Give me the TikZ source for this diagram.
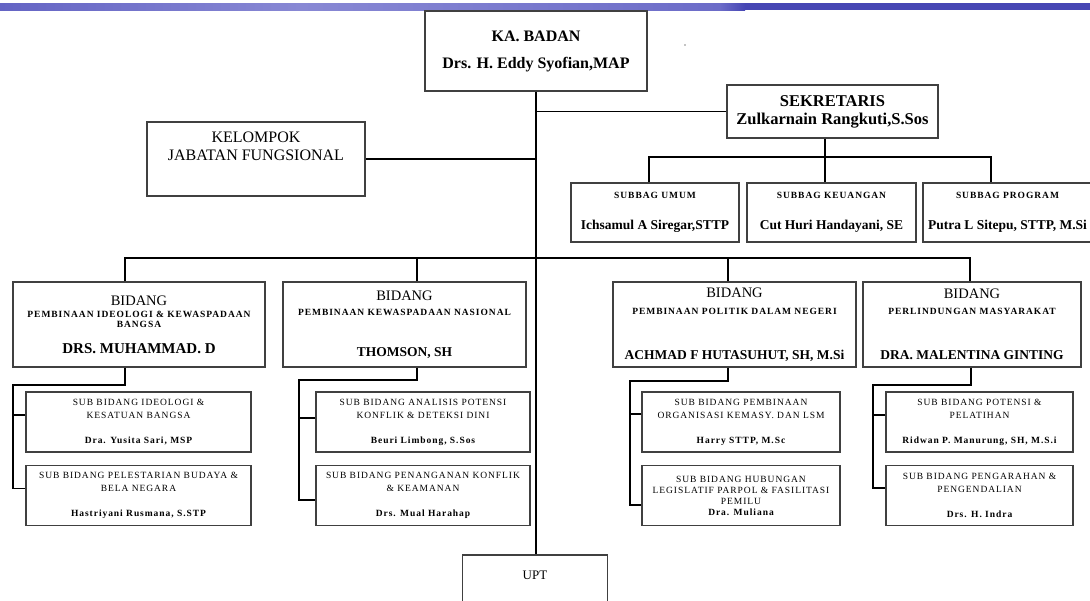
\documentclass[tikz,border=0pt]{standalone}
\usepackage{fontspec}
\setmainfont{Liberation Serif}
\newfontfamily\widefont[LetterSpace=10]{Liberation Serif}
\usetikzlibrary{calc}
\definecolor{barleft}{HTML}{6464C4}
\definecolor{barmid}{HTML}{8888D4}
\definecolor{barmid2}{HTML}{6C6CC8}
\definecolor{barright}{HTML}{4646B4}
\newcommand\fsz[2]{\fontsize{#1}{#2}\selectfont}
\newcommand\ttl[1]{{\widefont\bfseries #1}}
\newcommand\stl[1]{{\widefont #1}}
\newcommand\snm[1]{{\widefont\fsz{9.5}{13}\bfseries #1}}
\newcommand\bnm[1]{{\fsz{13.5}{9}\bfseries #1}}
\newcommand\bhd{{\fsz{14.5}{9}BIDANG}}
\tikzset{
	box/.style={draw=black!75, line width=1.2pt, inner sep=1pt, align=center},
	link/.style={line width=1.1pt},
	bidang/.style={box, minimum width=243, minimum height=85, font=\fsz{9.5}{9.5}},
	subbox/.style={box, minimum height=60, font=\fsz{9.5}{13}},
	subbag/.style={box, minimum width=169, minimum height=59, font=\fsz{9.5}{10}},
}

\begin{document}
\begin{tikzpicture}[x=1pt,y=-1pt]
	\useasboundingbox (0,0) rectangle (1090,600);
	\clip (0,0) rectangle (1090,600);
	%%%%% BAR %%%%%
	\shade[left color=barleft, right color=barmid] (0,3) rectangle (300,10);
	\shade[left color=barmid, right color=barmid2] (300,3) rectangle (720,10);
	\shade[left color=barmid2, right color=barright] (720,3) rectangle (745,10);
	\fill[barright] (745,3) rectangle (1090,10);
	\fill (685,45) circle (0.7);

	%%%%% PIMPINAAN %%%%%
	\node[box, minimum width=222, minimum height=80, font=\fsz{16}{27}\bfseries] (ka) at (536,51) {KA. BADAN\\Drs. H. Eddy Syofian,MAP};
	\node[box, minimum width=211, minimum height=53, font=\fsz{16.5}{18}\bfseries] (sek) at (832.5,111.5) {SEKRETARIS\\Zulkarnain Rangkuti,S.Sos};
	\node[box, minimum width=218, minimum height=74, font=\fsz{16}{18}] (kel) at (256,159) {KELOMPOK\\JABATAN FUNGSIONAL\\[8pt]\mbox{}};

	%%%%% SUBBAG %%%%%
	\node[subbag, minimum width=168] (sb1) at (655,212.5) {\ttl{SUBBAG UMUM}\\[21pt]\bnm{Ichsamul A Siregar,STTP}};
	\node[subbag] (sb2) at (831.5,212.5) {\ttl{SUBBAG KEUANGAN}\\[21pt]\bnm{Cut Huri Handayani, SE}};
	\node[subbag] (sb3) at (1007.5,212.5) {\ttl{SUBBAG PROGRAM}\\[21pt]\bnm{Putra L Sitepu, STTP, M.Si}};

	%%%%% BIDANG %%%%%
	\node[bidang, minimum width=252] (bd1) at (139,324.5) {\bhd\\[3pt]\ttl{PEMBINAAN IDEOLOGI \& KEWASPADAAN}\\\ttl{BANGSA}\\[15pt]{\fsz{15}{9}\bfseries DRS. MUHAMMAD. D}};
	\node[bidang] (bd2) at (404.5,324.5) {\bhd\\[5pt]\ttl{PEMBINAAN KEWASPADAAN NASIONAL}\\[31.5pt]\bnm{THOMSON, SH}};
	\node[bidang] (bd3) at (734.5,324.5) {\bhd\\[7pt]\ttl{PEMBINAAN POLITIK DALAM NEGERI}\\[35.5pt]\bnm{ACHMAD F HUTASUHUT, SH, M.Si}};
	\node[bidang, minimum width=218] (bd4) at (972,324.5) {\bhd\\[7pt]\ttl{PERLINDUNGAN MASYARAKAT}\\[35.5pt]\bnm{DRA. MALENTINA GINTING}};

	%%%%% SUB BIDANG %%%%%
	\node[subbox, minimum width=225] (s11) at (138.5,422) {\stl{SUB BIDANG IDEOLOGI \&}\\\stl{KESATUAN BANGSA}\\[12pt]\snm{Dra. Yusita Sari, MSP}};
	\node[subbox, minimum width=225] (s12) at (138.5,495.5) {\stl{SUB BIDANG PELESTARIAN BUDAYA \&}\\\stl{BELA NEGARA}\\[12pt]\snm{Hastriyani Rusmana, S.STP}};
	\node[subbox, minimum width=214] (s21) at (423,422) {\stl{SUB BIDANG ANALISIS POTENSI}\\\stl{KONFLIK \& DETEKSI DINI}\\[12pt]\snm{Beuri Limbong, S.Sos}};
	\node[subbox, minimum width=214] (s22) at (423,495.5) {\stl{SUB BIDANG PENANGANAN KONFLIK}\\\stl{\& KEAMANAN}\\[12pt]\snm{Drs. Mual Harahap}};
	\node[subbox, minimum width=198] (s31) at (741,422) {\stl{SUB BIDANG PEMBINAAN}\\\stl{ORGANISASI KEMASY. DAN LSM}\\[12pt]\snm{Harry STTP, M.Sc}};
	\node[subbox, minimum width=198, font=\fsz{9.5}{11}] (s32) at (741,495.5) {\stl{SUB BIDANG HUBUNGAN}\\\stl{LEGISLATIF PARPOL \& FASILITASI}\\\stl{PEMILU}\\\snm{Dra. Muliana}};
	\node[subbox, minimum width=187] (s41) at (979.5,422) {\stl{SUB BIDANG POTENSI \&}\\\stl{PELATIHAN}\\[12pt]\snm{Ridwan P. Manurung, SH, M.S.i}};
	\node[subbox, minimum width=187] (s42) at (979.5,495.5) {\stl{SUB BIDANG PENGARAHAN \&}\\\stl{PENGENDALIAN}\\[12pt]\snm{Drs. H. Indra}};

	\node[box, minimum width=145, minimum height=70, font=\fsz{13}{13}] (upt) at (535,590) {UPT\\[17pt]\mbox{}};

	%%%%% GARIS %%%%%
	\draw[link] (ka.south) -- (ka.south |- upt.north);
	\draw[link] (kel.east) -- (kel.east -| ka.south);
	\draw[link] (sek.west -| ka.south) -- (sek.west);

	\coordinate (sekbus) at (825,157);
	\draw[link] (sek.south -| sekbus) -- (sekbus);
	\draw[link] ($(sb1.north)+(-6,0)$) |- (sekbus) -| ($(sb3.north)+(-16.5,0)$);
	\draw[link] (sekbus) -- (sekbus |- sb2.north);

	\coordinate (bidbus) at (535,258);
	\draw[link] ($(bd1.north)+(-14,0)$) |- (bidbus) -| ($(bd4.north)+(-2,0)$);
	\draw[link] ($(bd2.north)+(12.5,0)$) |- (bidbus);
	\draw[link] ($(bd3.north)+(-6.5,0)$) |- (bidbus);

	\coordinate (br1) at (13,385);
	\draw[link] ($(bd1.south)+(-14,0)$) |- (br1) |- ($(s12.west)+(0,-7)$);
	\draw[link] ($(s11.west)+(0,-7)$) -| (br1);

	\coordinate (br2) at (299,380);
	\draw[link] ($(bd2.south)+(12.5,0)$) |- (br2) |- ($(s22.west)+(0,4.5)$);
	\draw[link] ($(s21.west)+(0,-4)$) -| (br2);

	\coordinate (br3) at (630,381);
	\draw[link] ($(bd3.south)+(-6.5,0)$) |- (br3) |- ($(s32.west)+(0,9.5)$);
	\draw[link] ($(s31.west)+(0,-8)$) -| (br3);

	\coordinate (br4) at (873,385);
	\draw[link] ($(bd4.south)+(-1,0)$) |- (br4) |- ($(s42.west)+(0,-7.5)$);
	\draw[link] ($(s41.west)+(0,-7)$) -| (br4);
\end{tikzpicture}
\end{document}
